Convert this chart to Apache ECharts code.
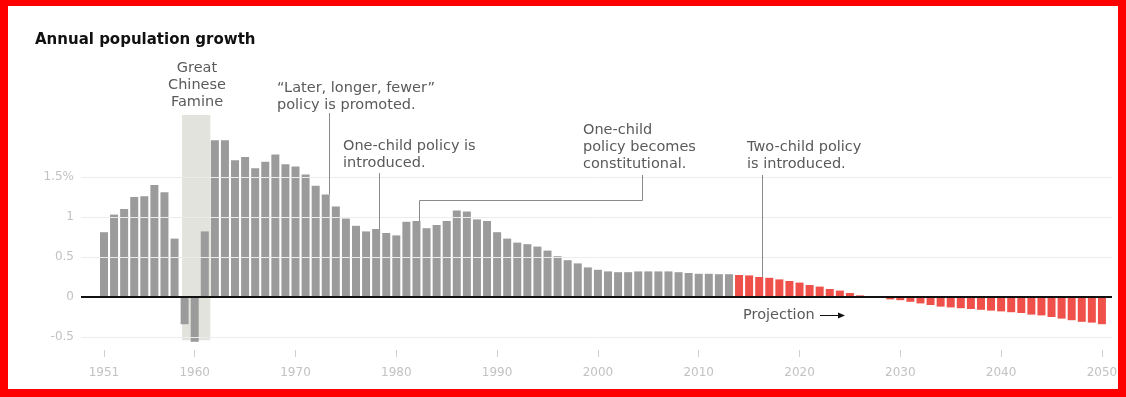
<!DOCTYPE html>
<html>
<head>
<meta charset="utf-8">
<title>Annual population growth</title>
<script src="https://cdn.jsdelivr.net/npm/echarts@6/dist/echarts.min.js"></script>
<style>
  html, body { margin: 0; padding: 0; background: #fff; }
  #chart { width: 1126px; height: 397px; }
</style>
</head>
<body>
<div id="chart"></div>
<script>
// ---- data -------------------------------------------------------------
const title = 'Annual population growth';
const firstYear = 1951;
// annual growth (%) 1951–2013
const historical = [
  0.81, 1.03, 1.10, 1.25, 1.26, 1.40, 1.31, 0.73, -0.34, -0.56,
  0.82, 1.96, 1.96, 1.71, 1.75, 1.61, 1.69, 1.78, 1.66, 1.63,
  1.53, 1.39, 1.28, 1.13, 0.98, 0.89, 0.82, 0.85, 0.80, 0.77,
  0.94, 0.95, 0.86, 0.90, 0.95, 1.08, 1.07, 0.97, 0.95, 0.81,
  0.73, 0.68, 0.66, 0.63, 0.58, 0.51, 0.46, 0.42, 0.37, 0.34,
  0.32, 0.31, 0.31, 0.32, 0.32, 0.32, 0.32, 0.31, 0.30, 0.29,
  0.29, 0.285, 0.285
];
// projected growth (%) 2014–2050
const projected = [
  0.275, 0.27, 0.25, 0.24, 0.22, 0.20, 0.18, 0.15, 0.13, 0.10,
  0.08, 0.05, 0.02, 0.005, -0.01, -0.03, -0.04, -0.06, -0.08, -0.10,
  -0.12, -0.13, -0.14, -0.15, -0.16, -0.17, -0.18, -0.19, -0.20, -0.22,
  -0.23, -0.25, -0.27, -0.29, -0.31, -0.32, -0.34
];
const xTickYears = [1951, 1960, 1970, 1980, 1990, 2000, 2010, 2020, 2030, 2040, 2050];
const yTickValues = [-0.5, 0, 0.5, 1, 1.5];
const famineYears = [1959, 1961];
const famineLabel = ['Great', 'Chinese', 'Famine'];
const events = [
  { key: 'later', year: 1973, lines: ['\u201cLater, longer, fewer\u201d', 'policy is promoted.'] },
  { key: 'oneChild', year: 1978, lines: ['One-child policy is', 'introduced.'] },
  { key: 'constitution', year: 1982, lines: ['One-child', 'policy becomes', 'constitutional.'] },
  { key: 'twoChild', year: 2016, lines: ['Two-child policy', 'is introduced.'] }
];
const projectionLabel = 'Projection';

// ---- derived series ---------------------------------------------------
const projectionStart = firstYear + historical.length;
const allValues = historical.concat(projected);
const barData = allValues.map((v, i) => [firstYear + i, v]);
const valueOf = (year) => allValues[year - firstYear];

// ---- look -------------------------------------------------------------
const GREY = '#9b9b9b';
const RED = '#ef5049';
const TEXT = '#5a5a5a';
const AXIS_TEXT = '#c2c2c2';
const FONT = '"DejaVu Sans", "Liberation Sans", sans-serif';
const NOTE_FONT = '14.5px ' + FONT;

const chart = echarts.init(document.getElementById('chart'), null, { renderer: 'canvas' });

chart.setOption({
  animation: false,
  backgroundColor: '#fff',
  grid: { left: 81, right: 14, top: 97, bottom: 40 },
  xAxis: {
    type: 'value',
    min: 1948.72,
    max: 2051,
    splitLine: { show: false },
    axisLine: { show: false, onZero: false },
    axisTick: {
      show: true, inside: true, length: 7,
      customValues: xTickYears,
      lineStyle: { color: '#cfcfcf', width: 1 }
    },
    axisLabel: {
      customValues: xTickYears,
      margin: 10,
      color: AXIS_TEXT,
      fontFamily: FONT,
      fontSize: 12,
      formatter: (v) => String(Math.round(v))
    }
  },
  yAxis: {
    type: 'value',
    min: -0.75,
    max: 2.5,
    interval: 0.25,
    splitLine: { show: false },
    axisLine: { show: false },
    axisTick: { show: false },
    axisLabel: {
      margin: 7,
      color: AXIS_TEXT,
      fontFamily: FONT,
      fontSize: 12,
      formatter: (v) => {
        if (!yTickValues.some(t => Math.abs(t - v) < 1e-9)) return '';
        if (Math.abs(v - 1.5) < 1e-9) return '1.5%';
        return String(v);
      }
    }
  },
  series: [
    {
      // background layer: famine band and horizontal guides
      type: 'line',
      data: [],
      z: 1,
      silent: true,
      markArea: {
        silent: true,
        itemStyle: { color: '#e3e3dd' },
        data: [[
          { xAxis: famineYears[0] - 0.25, yAxis: 2.275 },
          { xAxis: famineYears[1] + 0.55, yAxis: -0.54 }
        ]]
      },
      markLine: {
        silent: true,
        symbol: ['none', 'none'],
        label: { show: false },
        lineStyle: { color: '#ececec', width: 1, type: 'solid' },
        data: yTickValues.filter(v => v !== 0).map(v => ({ yAxis: v }))
      }
    },
    {
      type: 'bar',
      z: 2,
      barWidth: 8,
      data: barData,
      itemStyle: {
        color: (p) => (p.value[0] >= projectionStart ? RED : GREY)
      },
      markLine: {
        silent: true,
        symbol: ['none', 'none'],
        label: { show: false },
        lineStyle: { color: '#111', width: 2, type: 'solid' },
        data: [{ yAxis: 0 }]
      }
    }
  ]
});

// ---- annotations ------------------------------------------------------
const px = (x, y) => chart.convertToPixel({ gridIndex: 0 }, [x, y]);
const crisp = (v) => Math.round(v) + 0.5;

const textLayout = {
  famine: { x: 197, y: 68 },
  later: { x: 277, y: 88, lineTop: 113 },
  oneChild: { x: 343, y: 146, lineTop: 173 },
  constitution: { x: 583, y: 130, lineTop: 175, elbowX: 642, elbowY: 200 },
  twoChild: { x: 747, y: 147, lineTop: 175 },
  projection: { x: 743, y: 315 }
};
const LINE_H = 17;

function textEl(lines, pos, align) {
  return {
    type: 'text',
    silent: true,
    z: 10,
    style: {
      text: lines.join('\n'),
      x: pos.x,
      y: pos.y - LINE_H / 2,
      fill: TEXT,
      font: NOTE_FONT,
      lineHeight: LINE_H,
      textAlign: align || 'left',
      textVerticalAlign: 'top',
      verticalAlign: 'top'
    }
  };
}

function buildGraphics() {
  const els = [];

  els.push({
    type: 'text', silent: true, z: 10,
    style: {
      text: title, x: 35, y: 40,
      fill: '#111', font: 'bold 15px ' + FONT,
      textAlign: 'left', textVerticalAlign: 'middle', verticalAlign: 'middle'
    }
  });

  els.push(textEl(famineLabel, textLayout.famine, 'center'));

  events.forEach((ev) => {
    const lay = textLayout[ev.key];
    els.push(textEl(ev.lines, lay));
    const lx = crisp(px(ev.year + 0.3, 0)[0]);
    const barTop = px(ev.year, valueOf(ev.year))[1];
    let points;
    if (lay.elbowX) {
      const ex = crisp(lay.elbowX), ey = crisp(lay.elbowY);
      points = [[ex, lay.lineTop], [ex, ey], [lx, ey], [lx, barTop]];
    } else {
      points = [[lx, lay.lineTop], [lx, barTop]];
    }
    els.push({
      type: 'polyline', silent: true, z: 9,
      shape: { points },
      style: { stroke: '#8a8a8a', lineWidth: 1, fill: null }
    });
  });

  // projection label with arrow
  const pl = textLayout.projection;
  els.push({
    type: 'text', silent: true, z: 10,
    style: {
      text: projectionLabel, x: pl.x, y: pl.y,
      fill: TEXT, font: NOTE_FONT,
      textAlign: 'left', textVerticalAlign: 'middle', verticalAlign: 'middle'
    }
  });
  const ay = crisp(pl.y);
  els.push({
    type: 'line', silent: true, z: 10,
    shape: { x1: pl.x + 77, y1: ay, x2: pl.x + 97, y2: ay },
    style: { stroke: '#111', lineWidth: 1 }
  });
  els.push({
    type: 'polygon', silent: true, z: 10,
    shape: { points: [[pl.x + 95, ay - 3], [pl.x + 102, ay], [pl.x + 95, ay + 3]] },
    style: { fill: '#111' }
  });

  // outer frame
  const FRAME = '#ff0000';
  [[0, 0, 1126, 6], [0, 389, 1126, 8], [0, 0, 8, 397], [1118, 0, 8, 397]].forEach(r => {
    els.push({
      type: 'rect', silent: true, z: 20,
      shape: { x: r[0], y: r[1], width: r[2], height: r[3] },
      style: { fill: FRAME }
    });
  });

  return els;
}

chart.setOption({ graphic: { elements: buildGraphics() } });
</script>
</body>
</html>
